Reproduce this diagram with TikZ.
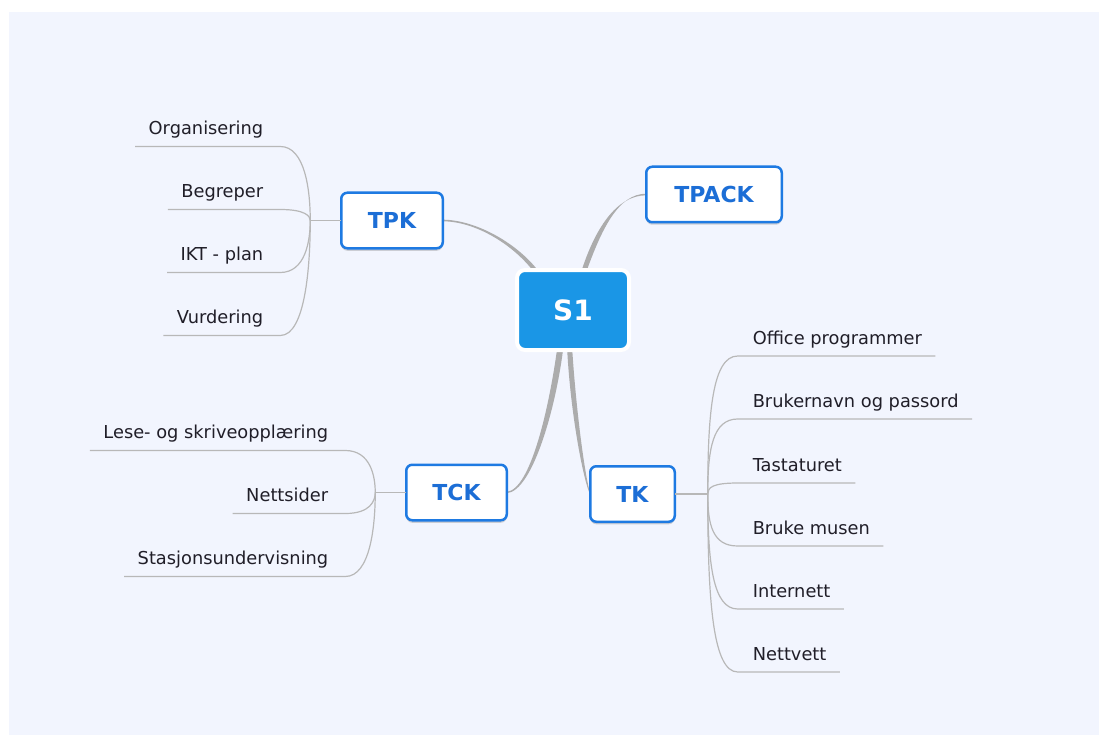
\documentclass[tikz,border=0pt]{standalone}
\usepackage{fontspec}
\setmainfont{DejaVu Sans}
\usetikzlibrary{calc,shadows}

\definecolor{pagebg}{RGB}{242,245,254}
\definecolor{boxline}{RGB}{30,122,226}
\definecolor{boxtext}{RGB}{28,110,214}
\definecolor{rootfill}{RGB}{26,150,230}
\definecolor{trunk}{RGB}{172,172,172}
\definecolor{twig}{RGB}{184,184,184}
\definecolor{leaftext}{RGB}{32,30,40}

\pgfdeclarelayer{bg}
\pgfsetlayers{bg,main}

\begin{document}
\begin{tikzpicture}[x=1pt,y=-1pt,
  every node/.style={outer sep=0pt},
  topic/.style={draw=boxline, line width=2.5pt, fill=white, rounded corners=6pt,
    text=boxtext, font=\fontsize{22}{26}\selectfont\bfseries, inner sep=0pt,
    minimum height=55.5pt,
    drop shadow={shadow xshift=0pt, shadow yshift=-2.5pt, opacity=0.3, fill=black!55}},
  root/.style={draw=white, line width=4pt, fill=rootfill, rounded corners=8pt,
    text=white, font=\fontsize{28}{32}\selectfont\bfseries,
    minimum width=112pt, minimum height=80pt, inner sep=0pt},
  leaf/.style={text=leaftext, font=\fontsize{17.8}{21}\selectfont,
    inner xsep=13.5pt, inner ysep=0pt},
  twig/.style={draw=twig, line width=1.2pt},
  trunkfill/.style={fill=trunk}
]
\useasboundingbox (0,0) rectangle (1099,735);
\begin{pgfonlayer}{bg}
  \fill[pagebg] (9,12) rectangle (1099,735);
\end{pgfonlayer}

% central topic and main branches
\node[root] (s1) at (573,310) {S1};
\node[topic, minimum width=135.5pt] (tpack) at (714,194.5) {TPACK};
\node[topic, minimum width=101.5pt] (tpk) at (392,220.5) {TPK};
\node[topic, minimum width=100.5pt] (tck) at (456.5,492.5) {TCK};
\node[topic, minimum width=84.5pt] (tk) at (632.5,494) {TK};

% tapered connectors from the centre to each branch
\begin{pgfonlayer}{bg}
  \fill[trunkfill] ($(s1.north)+(-37.5,4)$) .. controls +(-22,-30) and +(32,0) .. ($(tpk.east)+(0,0.8)$)
    -- ($(tpk.east)+(0,-0.8)$) .. controls +(33,0) and +(-21,-30) .. ($(s1.north)+(-32.5,4)$) -- cycle;
  \fill[trunkfill] ($(s1.north)+(7.5,4)$) .. controls +(14,-45) and +(-30,0) .. ($(tpack.west)+(0,0.8)$)
    -- ($(tpack.west)+(0,-0.8)$) .. controls +(-28,0) and +(16,-45) .. ($(s1.north)+(12.5,4)$) -- cycle;
  \fill[trunkfill] ($(s1.south)+(-15.5,-4)$) .. controls +(-8,60) and +(24,-2) .. ($(tck.east)+(0,-0.7)$)
    -- ($(tck.east)+(0,0.7)$) .. controls +(26,-2) and +(-7,60) .. ($(s1.south)+(-9.5,-4)$) -- cycle;
  \fill[trunkfill] ($(s1.south)+(-6,-4)$) .. controls +(3,65) and +(-7,-14) .. ($(tk.west)+(0,0.7)$)
    -- ($(tk.west)+(0,-0.7)$) .. controls +(-5,-15) and +(4,65) .. ($(s1.south)+(-1,-4)$) -- cycle;
\end{pgfonlayer}

% TPK subtopics
\coordinate (jp) at ($(tpk.west)+(-31,0)$);
\draw[twig] (tpk.west) -- (jp);
\foreach \nm/\dy/\txt in {org/-74/Organisering, beg/-11/Begreper, ikt/52/IKT - plan, vur/115/Vurdering}{
  \node[leaf, anchor=base east] (\nm) at ($(jp)+(-33.5,{\dy-12})$) {\txt};
  \draw[twig] ($(\nm.base west)+(0,12)$) -- ($(jp)+(-30,\dy)$)
    .. controls ($(jp)+(-5,\dy)$) and ($(jp)+(0,{0.4*\dy})$) .. (jp);
}

% TCK subtopics
\coordinate (jc) at ($(tck.west)+(-31,0)$);
\draw[twig] (tck.west) -- (jc);
\foreach \nm/\dy/\txt in {les/-42/Lese- og skriveopplæring, net/21/Nettsider, sta/84/Stasjonsundervisning}{
  \node[leaf, anchor=base east] (\nm) at ($(jc)+(-33.5,{\dy-12})$) {\txt};
  \draw[twig] ($(\nm.base west)+(0,12)$) -- ($(jc)+(-30,\dy)$)
    .. controls ($(jc)+(-5,\dy)$) and ($(jc)+(0,{0.4*\dy})$) .. (jc);
}

% TK subtopics
\coordinate (jk) at ($(tk.east)+(33,0)$);
\draw[twig] (tk.east) -- (jk);
\foreach \nm/\dy/\txt in {off/-138/Office programmer, bru/-75/Brukernavn og passord, tas/-11/Tastaturet,
    mus/52/Bruke musen, int/115/Internett, vett/178/Nettvett}{
  \node[leaf, anchor=base west] (\nm) at ($(jk)+(31.5,{\dy-12})$) {\txt};
  \draw[twig] (jk) .. controls ($(jk)+(0,{0.6*\dy})$) and ($(jk)+(5,\dy)$) .. ($(jk)+(30,\dy)$)
    -- ($(\nm.base east)+(0,12)$);
}
\end{tikzpicture}
\end{document}
